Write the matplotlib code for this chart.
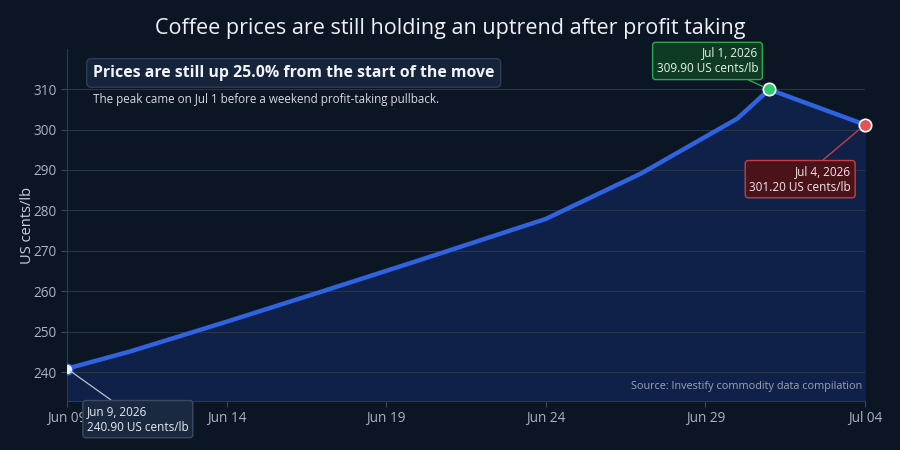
import datetime as dt
import matplotlib
matplotlib.use("Agg")
import matplotlib.pyplot as plt
import matplotlib.dates as mdates

plt.rcParams["font.family"] = ["Open Sans", "Noto Sans", "DejaVu Sans"]

# data
dates = ["2026-06-09", "2026-06-11", "2026-06-14", "2026-06-17", "2026-06-20",
         "2026-06-24", "2026-06-27", "2026-06-30", "2026-07-01", "2026-07-04"]
prices = [240.9, 245.2, 252.5, 260.0, 267.6, 277.9, 289.2, 302.7, 309.9, 301.2]
tick_dates = ["2026-06-09", "2026-06-14", "2026-06-19", "2026-06-24", "2026-06-29", "2026-07-04"]

x = [dt.datetime.strptime(d, "%Y-%m-%d") for d in dates]
ticks = [dt.datetime.strptime(d, "%Y-%m-%d") for d in tick_dates]

BG = "#0b1523"
TXT = "#c9d1dc"

fig = plt.figure(figsize=(9, 4.5), dpi=100, facecolor=BG)
ax = fig.add_axes([67 / 900, 49 / 450, 798 / 900, 352 / 450], facecolor=BG)

ymin, ymax = 232.9, 319.9
ax.fill_between(x, prices, ymin, color="#0f2049", zorder=1)
ax.plot(x, prices, color="#2f63e0", lw=3.2, zorder=3, solid_capstyle="round")

ax.set_xlim(x[0], x[-1])
ax.set_ylim(ymin, ymax)
ax.set_yticks(range(240, 311, 10))
ax.set_xticks(ticks)
ax.xaxis.set_major_formatter(mdates.DateFormatter("%b %d"))
ax.grid(axis="y", color="#2a3548", lw=0.8, zorder=0)
for s in ["top", "right"]:
    ax.spines[s].set_visible(False)
ax.spines["left"].set_color("#2f3a4c")
ax.spines["bottom"].set_color("#2f3a4c")
ax.tick_params(colors="#3a4658", labelcolor="#aab3c0", labelsize=9.8, length=4)
ax.set_ylabel("US cents/lb", color=TXT, fontsize=10.5, labelpad=-1)

fig.suptitle("Coffee prices are still holding an uptrend after profit taking",
             color="#eef2f7", fontsize=15.5, y=0.96)

# markers
ax.scatter([x[0]], [prices[0]], s=60, color="#e8eef8", edgecolor="#2f63e0", lw=1, zorder=5)
ax.scatter([x[8]], [prices[8]], s=80, color="#2ecc71", edgecolor="white", lw=1.2, zorder=5, clip_on=False)
ax.scatter([x[-1]], [prices[-1]], s=80, color="#e05555", edgecolor="white", lw=1.2, zorder=5, clip_on=False)

# callouts
def fmt(d, v):
    return f"{d.strftime('%b')} {d.day}, {d.year}\n{v:.2f} US cents/lb"

ax.annotate(fmt(x[8], prices[8]), xy=(x[8], prices[8]), xytext=(-11, 14),
            textcoords="offset pixels", ha="right", va="bottom", color="#e6f4ea",
            fontsize=8.5, linespacing=1.3, zorder=6, annotation_clip=False,
            bbox=dict(boxstyle="round,pad=0.35,rounding_size=0.25", fc="#0f3a23", ec="#2ea84f", lw=1),
            arrowprops=dict(arrowstyle="-", color="#2ea84f", lw=1, shrinkA=0, shrinkB=5))
ax.annotate(fmt(x[-1], prices[-1]), xy=(x[-1], prices[-1]), xytext=(-14, -40),
            textcoords="offset pixels", ha="right", va="top", color="#f6e6e8",
            fontsize=8.5, linespacing=1.3, zorder=6, annotation_clip=False,
            bbox=dict(boxstyle="round,pad=0.35,rounding_size=0.25", fc="#4a1219", ec="#c0404a", lw=1),
            arrowprops=dict(arrowstyle="-", color="#c0404a", lw=1, shrinkA=0, shrinkB=5))
ax.annotate(fmt(x[0], prices[0]), xy=(x[0], prices[0]), xytext=(20, -36),
            textcoords="offset pixels", ha="left", va="top", color="#e6ebf2",
            fontsize=8.5, linespacing=1.3, zorder=6, annotation_clip=False,
            bbox=dict(boxstyle="round,pad=0.35,rounding_size=0.25", fc="#1a2940", ec="#3a4a60", lw=1),
            arrowprops=dict(arrowstyle="-", color="#b8c2d0", lw=0.9, shrinkA=0, shrinkB=3))

# headline box
ax.text(0.0326, 0.932, "Prices are still up 25.0% from the start of the move",
        transform=ax.transAxes, ha="left", va="center", color="#f2f5fa",
        fontsize=11.4, fontweight="bold", zorder=6,
        bbox=dict(boxstyle="round,pad=0.4,rounding_size=0.3", fc="#15233b", ec="#2e3d55", lw=1))
ax.text(0.0326, 0.857, "The peak came on Jul 1 before a weekend profit-taking pullback.",
        transform=ax.transAxes, ha="left", va="center", color="#d5dbe4", fontsize=8.4, zorder=6)

ax.text(0.996, 0.04, "Source: Investify commodity data compilation",
        transform=ax.transAxes, ha="right", va="center", color="#9aa4b2", fontsize=7.8, zorder=6)

fig.savefig("out.png", dpi=100, facecolor=BG)
